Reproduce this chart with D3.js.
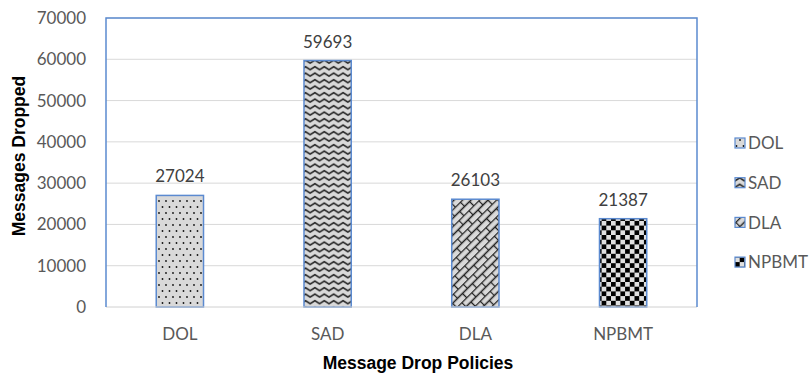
<!DOCTYPE html>
<html>
<head>
<meta charset="utf-8">
<script src="https://cdn.jsdelivr.net/npm/d3@7"></script>
<style>
  html, body { margin: 0; padding: 0; background: #fff; }
  svg { display: block; }
</style>
</head>
<body>
<svg id="chart" width="809" height="373"></svg>
<script>
// Messages dropped per drop policy
const categories = ["DOL", "SAD", "DLA", "NPBMT"];
const dropped = [27024, 59693, 26103, 21387];
const yTicks = [0, 10000, 20000, 30000, 40000, 50000, 60000, 70000];
const patternIds = ["pat-dots", "pat-wave", "pat-weave", "pat-check"];

const svg = d3.select("#chart");
const W = 809, H = 373;
const m = { left: 106, right: 112, top: 18, bottom: 66 };
const pw = W - m.left - m.right, ph = H - m.top - m.bottom;
const textFont = "Lato, 'Open Sans', sans-serif";
const titleFont = "'Liberation Sans Narrow', 'Liberation Sans', Arial, sans-serif";
const frameBlue = "#5b8ad0";
const labelSize = "17px";

// ---- fill patterns ----
const defs = svg.append("defs");
const bg = "#d9d9d9";

// dotted
let p = defs.append("pattern").attr("id", "pat-dots").attr("patternUnits", "userSpaceOnUse")
  .attr("width", 7).attr("height", 12);
p.append("rect").attr("width", 7).attr("height", 12).attr("fill", bg);
p.append("circle").attr("cx", 1.5).attr("cy", 3).attr("r", 0.9).attr("fill", "#111");
p.append("circle").attr("cx", 5).attr("cy", 9).attr("r", 0.9).attr("fill", "#111");

// wavy zigzag
p = defs.append("pattern").attr("id", "pat-wave").attr("patternUnits", "userSpaceOnUse")
  .attr("width", 9.4).attr("height", 6.5);
p.append("rect").attr("width", 9.4).attr("height", 6.5).attr("fill", bg);
p.append("path").attr("d", "M-4.7,1.7 L0,4.7 L4.7,1.7 L9.4,4.7 L14.1,1.7")
  .attr("fill", "none").attr("stroke", "#222").attr("stroke-width", 1.6);

// diagonal weave
p = defs.append("pattern").attr("id", "pat-weave").attr("patternUnits", "userSpaceOnUse")
  .attr("width", 14).attr("height", 12).attr("patternTransform", "rotate(-45)");
p.append("rect").attr("width", 14).attr("height", 12).attr("fill", bg);
p.append("path").attr("d", "M0,0.5 H14 M0,6.5 H14 M0.5,0.5 V6.5 M7.5,6.5 V12.5")
  .attr("fill", "none").attr("stroke", "#222").attr("stroke-width", 1.3);

// checkerboard
p = defs.append("pattern").attr("id", "pat-check").attr("patternUnits", "userSpaceOnUse")
  .attr("width", 9.4).attr("height", 9.4);
p.append("rect").attr("width", 9.4).attr("height", 9.4).attr("fill", "#e0e0e0");
p.append("rect").attr("width", 4.7).attr("height", 4.7).attr("fill", "#000");
p.append("rect").attr("x", 4.7).attr("y", 4.7).attr("width", 4.7).attr("height", 4.7).attr("fill", "#000");

// ---- scales ----
const x = d3.scaleBand().domain(categories).range([m.left, m.left + pw]).paddingInner(0.68).paddingOuter(0.34);
const y = d3.scaleLinear().domain([0, 70000]).range([m.top + ph, m.top]);

// gridlines
svg.append("g").selectAll("line").data(yTicks.filter(t => t > 0)).join("line")
  .attr("x1", m.left).attr("x2", m.left + pw)
  .attr("y1", d => y(d)).attr("y2", d => y(d))
  .attr("stroke", "#d9d9d9").attr("stroke-width", 1);

// y axis labels
const yAxis = svg.append("g").attr("transform", `translate(${m.left},0)`)
  .call(d3.axisLeft(y).tickValues(yTicks).tickSize(0).tickPadding(20).tickFormat(d3.format("d")));
yAxis.select(".domain").remove();
yAxis.selectAll("text").attr("fill", "#595959").style("font-family", textFont).style("font-size", labelSize);

// bars
svg.append("g").selectAll("rect").data(categories).join("rect")
  .attr("x", d => x(d)).attr("width", x.bandwidth())
  .attr("y", (d, i) => y(dropped[i])).attr("height", (d, i) => y(0) - y(dropped[i]))
  .attr("fill", (d, i) => `url(#${patternIds[i]})`)
  .attr("stroke", frameBlue).attr("stroke-width", 1.5);

// value labels
svg.append("g").selectAll("text").data(categories).join("text")
  .attr("x", d => x(d) + x.bandwidth() / 2).attr("y", (d, i) => y(dropped[i]) - 13)
  .attr("text-anchor", "middle").attr("fill", "#404040")
  .style("font-family", textFont).style("font-size", labelSize)
  .text((d, i) => dropped[i]);

// baseline
svg.append("line").attr("x1", m.left).attr("x2", m.left + pw)
  .attr("y1", y(0)).attr("y2", y(0)).attr("stroke", "#d0d0d0").attr("stroke-width", 1);

// plot frame (left, top, right)
svg.append("path")
  .attr("d", `M${m.left},${y(0)} V${m.top} H${m.left + pw} V${y(0)}`)
  .attr("fill", "none").attr("stroke", frameBlue).attr("stroke-width", 1.5);

// x axis labels
const xAxis = svg.append("g").attr("transform", `translate(0,${y(0)})`)
  .call(d3.axisBottom(x).tickSize(0).tickPadding(21));
xAxis.select(".domain").remove();
xAxis.selectAll("text").attr("fill", "#595959").style("font-family", textFont).style("font-size", labelSize);

// axis titles
svg.append("text").attr("x", 418).attr("y", 369).attr("text-anchor", "middle")
  .attr("fill", "#000").style("font-family", titleFont).style("font-weight", "bold").style("font-size", "17.5px")
  .text("Message Drop Policies");
svg.append("text").attr("transform", `translate(25,156) rotate(-90)`).attr("text-anchor", "middle")
  .attr("fill", "#000").style("font-family", titleFont).style("font-weight", "bold").style("font-size", "17.5px")
  .text("Messages Dropped");

// legend
const legend = svg.append("g").selectAll("g").data(categories).join("g")
  .attr("transform", (d, i) => `translate(735,${143 + i * 39.7})`);
legend.append("rect").attr("x", 0).attr("y", -5).attr("width", 10).attr("height", 10)
  .attr("fill", (d, i) => `url(#${patternIds[i]})`).attr("stroke", frameBlue).attr("stroke-width", 1.2);
legend.append("text").attr("x", 13).attr("y", 0).attr("dy", "0.36em")
  .attr("fill", "#595959").style("font-family", textFont).style("font-size", labelSize)
  .text(d => d);
</script>
</body>
</html>
